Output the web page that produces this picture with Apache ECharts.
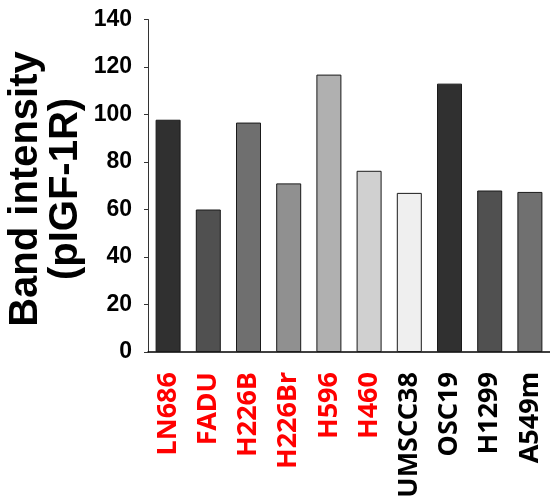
<!DOCTYPE html>
<html>
<head>
<meta charset="utf-8">
<script src="https://cdn.jsdelivr.net/npm/echarts@6/dist/echarts.min.js"></script>
<style>html,body{margin:0;padding:0;background:#fff}#c{width:550px;height:504px}</style>
</head>
<body>
<div id="c"></div>
<script>
const categories = ['LN686','FADU','H226B','H226Br','H596','H460','UMSCC38','OSC19','H1299','A549m'];
const values = [97.8, 60, 96.6, 71, 116.8, 76.3, 67, 113, 68, 67.4];
const barColors = ['#303030','#505050','#6f6f6f','#909090','#b0b0b0','#d0d0d0','#efefef','#303030','#505050','#707070'];
const labelColors = ['#ff0000','#ff0000','#ff0000','#ff0000','#ff0000','#ff0000','#000000','#000000','#000000','#000000'];
const yTicks = [0,20,40,60,80,100,120,140];
const yTitle = ['Band intensity','(pIGF-1R)'];

const chart = echarts.init(document.getElementById('c'));
chart.setOption({
  animation: false,
  backgroundColor: '#fff',
  grid: { left: 148, top: 19.5, width: 407, height: 332.5, containLabel: false },
  graphic: [{
    type: 'text',
    x: 46, y: 189,
    rotation: Math.PI / 2,
    style: {
      text: yTitle.join('\n'),
      font: 'bold 40px "Liberation Sans", Arial, sans-serif',
      lineHeight: 40,
      fill: '#000',
      align: 'center',
      verticalAlign: 'middle'
    }
  }],
  xAxis: {
    type: 'category',
    data: categories,
    axisLine: { lineStyle: { color: '#000', width: 1.5 } },
    axisTick: { alignWithLabel: true, length: 4, lineStyle: { color: '#000' } },
    axisLabel: {
      rotate: 90,
      margin: 20,
      interval: 0,
      fontFamily: '"Noto Sans", sans-serif',
      fontWeight: 'bold',
      fontSize: 27,
      color: function (v, i) { return labelColors[i]; }
    }
  },
  yAxis: {
    type: 'value',
    min: yTicks[0],
    max: yTicks[yTicks.length - 1],
    interval: 20,
    splitLine: { show: false },
    axisLine: { show: true, lineStyle: { color: '#333', width: 1 } },
    axisTick: { show: true, length: 4, lineStyle: { color: '#333' } },
    axisLabel: {
      margin: 16,
      fontFamily: '"Liberation Sans", Arial, sans-serif',
      fontWeight: 'bold',
      fontSize: 23,
      color: '#000'
    }
  },
  series: [{
    type: 'bar',
    barWidth: 25,
    data: values.map((v, i) => ({
      value: v,
      itemStyle: { color: barColors[i] }
    })),
    itemStyle: { borderColor: '#1a1a1a', borderWidth: 1 }
  }]
});
</script>
</body>
</html>
